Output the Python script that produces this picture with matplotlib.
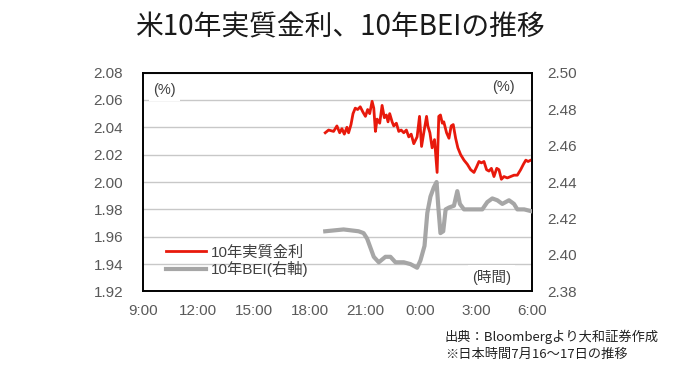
import matplotlib
matplotlib.use("Agg")
import matplotlib.pyplot as plt

# hours since 9:00 on 7/16 (JST)
real_hours = [9.85, 10.03, 10.30, 10.48, 10.63, 10.75, 10.88, 11.02, 11.11, 11.24,
              11.35, 11.47, 11.60, 11.74, 11.89, 12.02, 12.14, 12.25, 12.38, 12.47,
              12.56, 12.65, 12.79, 12.92, 13.04, 13.15, 13.24, 13.33, 13.46, 13.55,
              13.69, 13.82, 13.95, 14.09, 14.23, 14.36, 14.49, 14.63, 14.81, 14.94,
              15.05, 15.17, 15.32, 15.39, 15.50, 15.62, 15.75, 15.89, 15.98, 16.07,
              16.17, 16.25, 16.40, 16.53, 16.65, 16.76, 16.89, 17.01, 17.16, 17.34,
              17.52, 17.70, 17.88, 18.02, 18.15, 18.28, 18.42, 18.56, 18.69, 18.82,
              18.96, 19.11, 19.23, 19.36, 19.50, 19.68, 19.86, 20.04, 20.22, 20.40,
              20.55, 20.68, 20.80, 20.95, 21.00]
real_rate = [2.036, 2.038, 2.037, 2.041, 2.036, 2.039, 2.035, 2.040, 2.036, 2.042,
             2.050, 2.054, 2.053, 2.055, 2.051, 2.048, 2.053, 2.050, 2.059, 2.054,
             2.037, 2.046, 2.043, 2.056, 2.047, 2.049, 2.044, 2.050, 2.044, 2.041,
             2.043, 2.037, 2.038, 2.036, 2.038, 2.033, 2.035, 2.028, 2.033, 2.048,
             2.026, 2.036, 2.048, 2.041, 2.036, 2.025, 2.031, 2.007, 2.048, 2.049,
             2.043, 2.044, 2.036, 2.032, 2.041, 2.042, 2.032, 2.025, 2.020, 2.016,
             2.013, 2.009, 2.007, 2.011, 2.015, 2.014, 2.015, 2.009, 2.008, 2.010,
             2.004, 2.010, 2.009, 2.002, 2.004, 2.003, 2.004, 2.005, 2.005, 2.009,
             2.013, 2.016, 2.015, 2.016, 2.016]

bei_hours = [9.85, 10.84, 11.65, 11.92, 12.11, 12.29, 12.47, 12.74, 13.10, 13.37,
             13.64, 14.09, 14.45, 14.81, 14.99, 15.21, 15.36, 15.53, 15.71, 15.86,
             15.95, 16.07, 16.22, 16.35, 16.53, 16.80, 16.98, 17.12, 17.34, 17.88,
             18.33, 18.60, 18.87, 19.14, 19.41, 19.77, 20.04, 20.22, 20.59, 20.98]
bei = [2.413, 2.414, 2.413, 2.412, 2.409, 2.404, 2.399, 2.396, 2.399, 2.399,
       2.396, 2.396, 2.395, 2.393, 2.397, 2.405, 2.423, 2.432, 2.437, 2.440,
       2.427, 2.412, 2.413, 2.425, 2.426, 2.427, 2.435, 2.428, 2.425, 2.425,
       2.425, 2.429, 2.431, 2.430, 2.428, 2.430, 2.428, 2.425, 2.425, 2.424]

x_ticks = [0, 3, 6, 9, 12, 15, 18, 21]
x_labels = ["9:00", "12:00", "15:00", "18:00", "21:00", "0:00", "3:00", "6:00"]
left_ticks = [1.92, 1.94, 1.96, 1.98, 2.00, 2.02, 2.04, 2.06, 2.08]
right_ticks = [2.38, 2.40, 2.42, 2.44, 2.46, 2.48, 2.50]

plt.rcParams["font.family"] = ["Liberation Sans", "Noto Sans CJK JP", "DejaVu Sans"]

fig = plt.figure(figsize=(6.8, 3.82), dpi=100)
ax = fig.add_axes([0.210, 0.237, 0.572, 0.573])
ax2 = ax.twinx()

tick_col = "#595959"
red, = ax.plot(real_hours, real_rate, color="#e8190c", lw=2.0, zorder=3)
gray, = ax2.plot(bei_hours, bei, color="#a6a6a6", lw=3.0, zorder=3)

ax.set_xlim(0, 21)
ax.set_ylim(1.92, 2.08)
ax2.set_ylim(2.38, 2.50)
ax.set_xticks(x_ticks)
ax.set_xticklabels(x_labels)
ax.set_yticks(left_ticks)
ax.set_yticklabels([f"{v:.2f}" for v in left_ticks])
ax2.set_yticks(right_ticks)
ax2.set_yticklabels([f"{v:.2f}" for v in right_ticks])

ax.grid(axis="y", color="#c8c8c8", lw=1.0)
ax.set_axisbelow(True)
ax.tick_params(axis="x", length=0, pad=9, labelsize=11, labelcolor=tick_col)
ax.tick_params(axis="y", length=0, pad=14, labelsize=11, labelcolor=tick_col)
ax2.tick_params(axis="y", length=0, pad=11, labelsize=11, labelcolor=tick_col)
for a in (ax, ax2):
    for s in a.spines.values():
        s.set_color("black")
        s.set_linewidth(1.2)

ax2.text(0.026, 0.92, "(%)", transform=ax.transAxes, fontsize=10.5, color="#404040",
         va="center", ha="left",
         bbox=dict(facecolor="white", edgecolor="none", pad=3))
ax2.text(0.957, 0.934, "(%)", transform=ax.transAxes, fontsize=10.5, color="#404040",
         va="center", ha="right")
ax2.text(0.896, 0.066, "(時間)", transform=ax.transAxes, fontsize=10.5, color="#404040",
         va="center", ha="center",
         bbox=dict(facecolor="white", edgecolor="none", pad=3))

ax2.legend([red, gray], ["10年実質金利", "10年BEI(右軸)"], loc="lower left",
           bbox_to_anchor=(0.06, 0.065), frameon=False, fontsize=11,
           handlelength=2.6, handletextpad=0.3, labelspacing=0.12,
           borderpad=0, borderaxespad=0, labelcolor="#404040")

fig.text(0.5, 0.929, "米10年実質金利、10年BEIの推移", ha="center", va="center",
         fontsize=20, color="#1a1a1a", family=["Noto Sans CJK JP"])
fig.text(0.654, 0.118, "出典：Bloombergより大和証券作成", ha="left", va="center",
         fontsize=9.5, color="#222222", family=["Noto Sans CJK JP"])
fig.text(0.654, 0.071, "※日本時間7月16〜17日の推移", ha="left", va="center",
         fontsize=9.5, color="#222222", family=["Noto Sans CJK JP"])

fig.savefig("out.png", dpi=100)
